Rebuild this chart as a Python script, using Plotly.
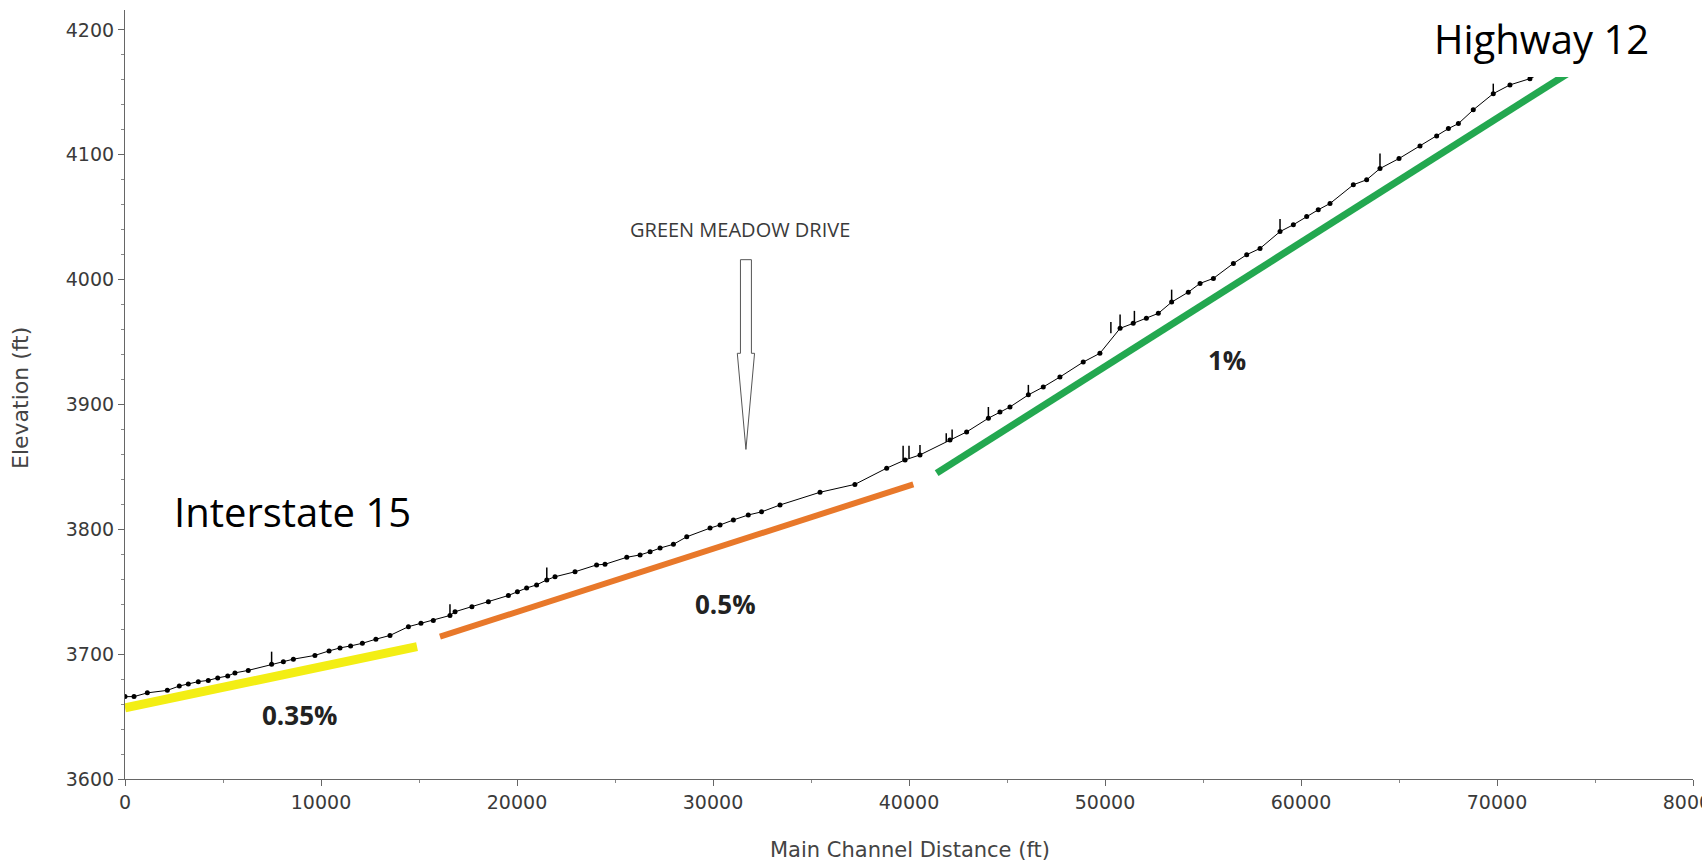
import plotly.graph_objects as go

# ---------------- data ----------------
# channel profile (main channel distance ft, elevation ft)
dist = [0, 460, 1140, 2160, 2770, 3230, 3740, 4250, 4730, 5240, 5610, 6290,
        7480, 8080, 8590, 9690, 10410, 10970, 11510, 12110, 12800, 13520,
        14460, 15100, 15730, 16580, 16840, 17700, 18540, 19560, 20020, 20490,
        21000, 21520, 21940, 22960, 24060, 24490, 25600, 26280, 26790, 27300,
        27980, 28660, 29850, 30360, 31040, 31800, 32480, 33420, 35460, 37240,
        38860, 39800, 40560, 42090, 42940, 44050, 44640, 45150, 46090, 46850,
        47700, 48890, 49740, 50770, 51440, 52110, 52720, 53400, 54250, 54850,
        55530, 56550, 57230, 57910, 58930, 59610, 60290, 60880, 61480, 62670,
        63350, 64030, 65000, 66070, 66920, 67520, 68030, 68790, 69810, 70660,
        71680, 72600, 73500]
elev = [3666, 3666, 3669, 3671, 3674.5, 3676, 3678, 3679, 3681, 3682.5, 3685, 3687,
        3692, 3694, 3696, 3699, 3702.6, 3705, 3706.6, 3708.7, 3712, 3715,
        3722, 3724.7, 3727, 3731, 3734, 3738, 3742, 3747, 3750, 3753,
        3755.5, 3759.5, 3762, 3766, 3771.5, 3772, 3777.6, 3779.5, 3782, 3785,
        3788, 3794, 3801, 3803.5, 3807.5, 3811.5, 3814, 3819.5, 3829.7, 3836,
        3849, 3855.6, 3859.6, 3871.6, 3878, 3889, 3894, 3898, 3907.7, 3914,
        3922, 3934, 3941, 3961, 3965, 3969, 3973, 3982, 3990, 3997,
        4001, 4013, 4020, 4025, 4038.5, 4044, 4050.6, 4056, 4061, 4076,
        4080, 4089, 4097, 4107, 4115, 4121, 4125, 4136, 4149, 4156,
        4161, 4168, 4176]

# structure spikes (distance, base elevation, spike height)
spike_x = [7480, 16580, 21520, 39700, 40000, 40560, 41900, 42200, 44050, 46090,
           50300, 50770, 51500, 53400, 58930, 64030, 69810]
spike_base = [3692, 3731, 3759.5, 3855, 3857, 3859.6, 3870, 3872, 3889, 3907.7,
              3957, 3961, 3965, 3982, 4038.5, 4089, 4149]
spike_h = [10, 9, 10, 12, 10, 8, 7, 8, 9, 8, 9, 11, 10, 10, 10, 12, 8]

# slope reference lines
yellow_x = [0, 14900]
yellow_y = [3657, 3706]
orange_x = [16070, 40220]
orange_y = [3714, 3836]
green_x = [41410, 74500]
green_y = [3845, 4174]

x_ticks = [0, 10000, 20000, 30000, 40000, 50000, 60000, 70000, 80000]
y_ticks = [3600, 3700, 3800, 3900, 4000, 4100, 4200]

# ---------------- figure ----------------
fig = go.Figure()

fig.add_trace(go.Scatter(x=yellow_x, y=yellow_y, mode="lines",
                         line=dict(color="#f3ee14", width=9), hoverinfo="skip"))
fig.add_trace(go.Scatter(x=orange_x, y=orange_y, mode="lines",
                         line=dict(color="#e8782a", width=6), hoverinfo="skip"))
fig.add_trace(go.Scatter(x=green_x, y=green_y, mode="lines",
                         line=dict(color="#23a850", width=7), hoverinfo="skip"))

sx, sy = [], []
for x0, b, h in zip(spike_x, spike_base, spike_h):
    sx += [x0, x0, None]
    sy += [b, b + h, None]
fig.add_trace(go.Scatter(x=sx, y=sy, mode="lines",
                         line=dict(color="black", width=1.5), hoverinfo="skip"))

fig.add_trace(go.Scatter(x=dist, y=elev, mode="lines+markers",
                         line=dict(color="black", width=1),
                         marker=dict(color="black", size=5)))

# Green Meadow Drive arrow (outlined)
ax = 31680
fig.add_shape(type="path", xref="x", yref="y",
              path=(f"M {ax-280},4016 L {ax+280},4016 L {ax+280},3941 "
                    f"L {ax+440},3941 L {ax},3864 L {ax-440},3941 L {ax-280},3941 Z"),
              line=dict(color="#555555", width=1), fillcolor="white")

# white box behind "Highway 12"
fig.add_shape(type="rect", xref="paper", yref="paper",
              x0=(1400 - 125) / 1568, x1=1.01,
              y0=(779 - 77) / 769, y1=1.02,
              line=dict(width=0), fillcolor="white", layer="above")

ann_font = dict(family="Open Sans, Noto Sans, sans-serif", color="black", size=40)
bold_font = dict(family="Open Sans, Noto Sans, sans-serif", color="#222222", size=26)
C = dict(xanchor="center", yanchor="middle", showarrow=False)

annotations = [
    dict(x=8570, y=3814, xref="x", yref="y", text="Interstate 15", font=ann_font, **C),
    dict(x=(1541 - 125) / 1568, y=(779 - 38) / 769, xref="paper", yref="paper",
         text="Highway 12", font=ann_font, **C),
    dict(x=8900, y=3651, xref="x", yref="y", text="<b>0.35%</b>", font=bold_font, **C),
    dict(x=30660, y=3740, xref="x", yref="y", text="<b>0.5%</b>", font=bold_font, **C),
    dict(x=56230, y=3936, xref="x", yref="y", text="<b>1%</b>", font=bold_font, **C),
    dict(x=31380, y=4040, xref="x", yref="y", text="GREEN MEADOW DRIVE",
         font=dict(family="Open Sans, Noto Sans, sans-serif", color="#3a3a3a", size=20), **C),
    dict(x=(910 - 125) / 1568, y=(779 - 850) / 769, xref="paper", yref="paper",
         text="Main Channel Distance (ft)",
         font=dict(family="DejaVu Sans, sans-serif", color="#444444", size=21), **C),
    dict(x=(20 - 125) / 1568, y=(779 - 398) / 769, xref="paper", yref="paper",
         text="Elevation (ft)", textangle=-90,
         font=dict(family="DejaVu Sans, sans-serif", color="#444444", size=22), **C),
]

axis_common = dict(showline=True, linecolor="#666666", linewidth=1.2,
                   ticks="outside", ticklen=6, tickcolor="#666666",
                   showgrid=False, zeroline=False, mirror=False,
                   ticklabeloverflow="allow",
                   tickfont=dict(family="DejaVu Sans, sans-serif", color="#3a3a3a", size=19))

fig.update_xaxes(range=[0, 80000], tickvals=x_ticks, ticktext=[str(v) for v in x_ticks],
                 minor=dict(dtick=5000, ticks="outside", ticklen=3, tickcolor="#888888"),
                 **axis_common)
fig.update_yaxes(range=[3600, 4216], tickvals=y_ticks, ticktext=[str(v) for v in y_ticks],
                 minor=dict(dtick=20, ticks="outside", ticklen=3, tickcolor="#888888"),
                 **axis_common)

fig.update_layout(width=1702, height=865,
                  margin=dict(l=125, r=9, t=10, b=86, autoexpand=False),
                  paper_bgcolor="white", plot_bgcolor="white",
                  showlegend=False, annotations=annotations)

fig.write_html("out.html", config={"displayModeBar": False},
               post_script="document.body.style.margin='0px';")
